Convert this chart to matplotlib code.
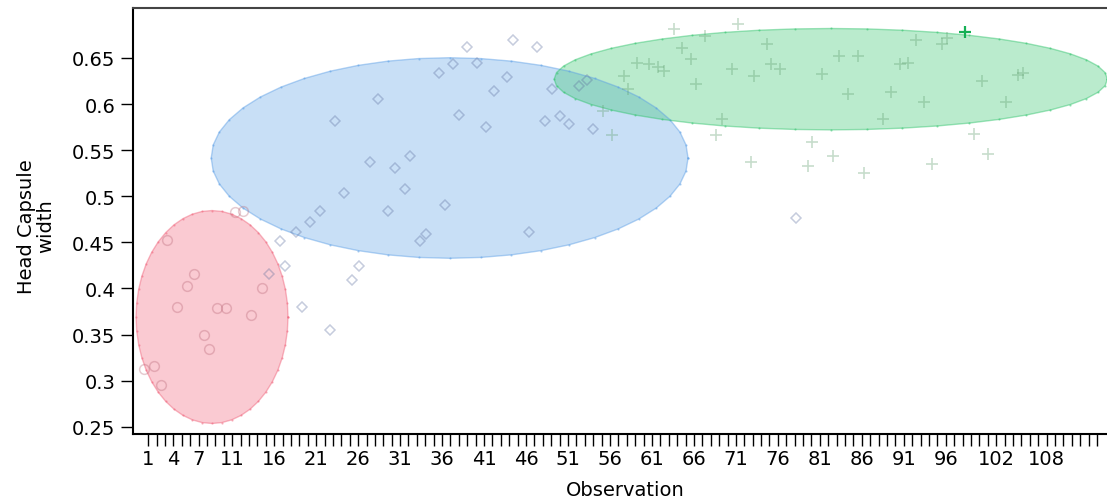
import numpy as np
import matplotlib
matplotlib.use("Agg")
import matplotlib.pyplot as plt

# observations (row number) and head capsule width, per group
red_obs = [0.5, 1.7, 2.5, 3.2, 4.4, 5.6, 6.4, 7.6, 8.2, 9.2, 10.3, 11.3, 12.3, 13.2, 14.5]
red_val = [0.313, 0.316, 0.295, 0.453, 0.380, 0.403, 0.416, 0.349, 0.334, 0.379,
           0.379, 0.483, 0.484, 0.371, 0.400]

blue_obs = [15.4, 16.7, 17.3, 18.6, 19.3, 20.3, 21.5, 22.6, 23.3, 24.3, 25.3, 26.1,
            27.4, 28.4, 29.6, 30.4, 31.6, 32.2, 33.4, 34.1, 35.6, 36.3, 37.3, 38.0,
            39.0, 40.2, 41.2, 42.2, 43.7, 44.5, 46.4, 47.3, 48.3, 49.1, 50.1, 51.1,
            52.3, 53.3, 54.0, 78.1]
blue_val = [0.416, 0.452, 0.424, 0.461, 0.380, 0.472, 0.484, 0.355, 0.582, 0.503,
            0.409, 0.424, 0.537, 0.606, 0.484, 0.531, 0.508, 0.544, 0.452, 0.459,
            0.634, 0.490, 0.643, 0.588, 0.662, 0.645, 0.575, 0.614, 0.629, 0.669,
            0.461, 0.662, 0.582, 0.616, 0.587, 0.578, 0.620, 0.626, 0.573, 0.476]

green_obs = [55.2, 56.2, 57.7, 58.2, 59.2, 60.6, 61.7, 62.4, 63.6, 64.6, 65.6, 66.3,
             67.3, 68.6, 69.3, 70.5, 71.3, 72.8, 73.2, 74.7, 75.2, 76.2, 79.6, 80.1,
             81.3, 82.6, 83.3, 84.4, 85.5, 86.3, 88.5, 89.5, 90.5, 91.5, 92.4, 93.4,
             94.4, 95.6, 96.1, 99.3, 100.3, 101.0, 103.2, 104.6, 105.2]
green_val = [0.593, 0.566, 0.631, 0.616, 0.645, 0.643, 0.640, 0.636, 0.681, 0.661,
             0.649, 0.622, 0.674, 0.566, 0.584, 0.638, 0.687, 0.537, 0.631, 0.665,
             0.643, 0.638, 0.533, 0.559, 0.633, 0.544, 0.652, 0.611, 0.652, 0.525,
             0.584, 0.613, 0.643, 0.645, 0.669, 0.602, 0.535, 0.665, 0.672, 0.568,
             0.625, 0.546, 0.602, 0.632, 0.634]

# highlighted row
sel_obs = [98.3]
sel_val = [0.678]

# density ellipses: centre, full width, full height
ell_cx = [8.6, 36.9, 82.3]
ell_cy = [0.369, 0.5415, 0.627]
ell_w = [18.1, 56.8, 65.9]
ell_h = [0.231, 0.2176, 0.110]
ell_colors = ["#f06078", "#5a9ee6", "#2ec36a"]

tick_labels = {1: "1", 4: "4", 7: "7", 11: "11", 16: "16", 21: "21", 26: "26",
               31: "31", 36: "36", 41: "41", 46: "46", 51: "51", 56: "56",
               61: "61", 66: "66", 71: "71", 76: "76", 81: "81", 86: "86",
               91: "91", 96: "96", 102: "102", 108: "108"}
n_ticks = 114
y_ticks = [0.25, 0.3, 0.35, 0.4, 0.45, 0.5, 0.55, 0.6, 0.65]

plt.rcParams['font.family'] = ['DejaVu Sans']
fig = plt.figure(figsize=(11.07, 5.02), dpi=100)
ax = fig.add_axes([0.1201, 0.1335, 0.8799, 0.8476])

t = np.linspace(0, 2 * np.pi, 49)
for cx, cy, w, h, c in zip(ell_cx, ell_cy, ell_w, ell_h, ell_colors):
    ex = cx + w / 2 * np.cos(t)
    ey = cy + h / 2 * np.sin(t)
    ax.fill(ex, ey, color=c, alpha=0.33, lw=0, zorder=1)
    ax.plot(ex, ey, color=c, alpha=0.45, lw=1.0, marker='.', ms=1.2, zorder=2)

ax.plot(red_obs, red_val, 'o', ms=7, mfc='none', mec='#b35f70', mew=1.1, alpha=0.32, zorder=3)
ax.plot(blue_obs, blue_val, 'D', ms=5.5, mfc='none', mec='#5d6f9e', mew=1.1, alpha=0.35, zorder=3)
ax.plot(green_obs, green_val, '+', ms=8, mec='#5f9e6e', mew=1.2, alpha=0.35, zorder=3)
ax.plot(sel_obs, sel_val, '+', ms=8, mec='#15b055', mew=1.6, zorder=4)

ax.set_xlim(-0.82, 115.2)
ax.set_ylim(0.2421, 0.7037)

ticks = list(range(1, n_ticks + 1))
ax.set_xticks(ticks)
ax.set_xticklabels([tick_labels.get(k, "") for k in ticks])
ax.set_yticks(y_ticks)
ax.set_yticklabels(['{:g}'.format(v) for v in y_ticks])

ax.tick_params(axis='x', length=8.5, width=1.0, pad=2, labelsize=14)
ax.tick_params(axis='y', length=8.5, width=1.0, pad=4, labelsize=14)

for side in ['left', 'bottom', 'top']:
    ax.spines[side].set_linewidth(1.5)
ax.spines['top'].set_color('#444444')
ax.spines['right'].set_visible(False)

ax.set_xlabel("Observation", fontsize=14)
ax.xaxis.set_label_coords(0.505, -0.108)
ax.set_ylabel("Head Capsule\nwidth", fontsize=14, linespacing=1.0)
ax.yaxis.set_label_coords(-0.080, 0.49)

fig.savefig("out.png", dpi=100)
